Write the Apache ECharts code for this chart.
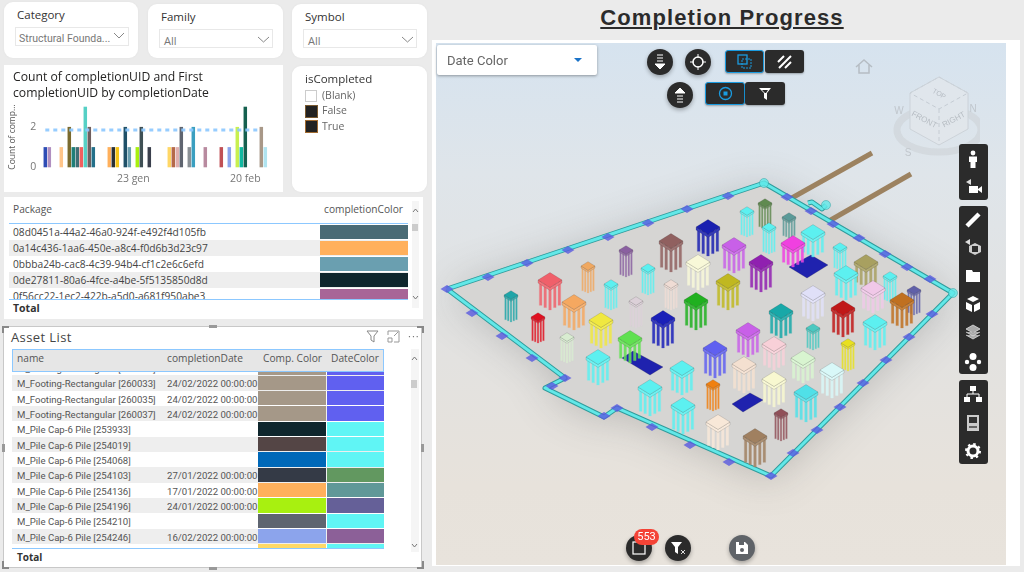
<!DOCTYPE html>
<html>
<head>
<meta charset="utf-8">
<title>Completion Progress</title>
<script src="https://cdn.jsdelivr.net/npm/echarts@6/dist/echarts.min.js"></script>
<style>
html, body { margin: 0; padding: 0; background: #ebebeb; }
#page { position: relative; width: 1024px; height: 572px; overflow: hidden; background: #ebebeb;
  font-family: "Open Sans", "Noto Sans", sans-serif; color: #333; filter: blur(0.35px); }
.abs { position: absolute; }
.panel { position: absolute; background: #fff; }
.round { border-radius: 9px; box-shadow: 0 0 3px rgba(0,0,0,.04); }
.txt { position: absolute; white-space: nowrap; line-height: 1; }
.drop { position: absolute; height: 19px; background: #fff; border: 1px solid #e8e8e8; box-sizing: border-box; }
.row { position: absolute; left: 0; right: 0; }
.dark { background: #2b2b2b; }
.btn { position: absolute; background: #2b2b2b; box-sizing: border-box; display: flex; align-items: center; justify-content: center; }
.circle { width: 26px; height: 26px; border-radius: 13px; box-shadow: 0 2px 4px rgba(0,0,0,.3); }
.rect { height: 23px; border-radius: 3px; box-shadow: 0 1px 2px rgba(0,0,0,.3); }
.on { border: 1px solid #1a9be0; }
.bar { position: absolute; left: 959px; width: 29px; background: #2b2b2b; border-radius: 3px; }
.ic { position: absolute; left: 964px; width: 18px; height: 18px; }
.cell { position: absolute; top: 0; bottom: 0; }
</style>
</head>
<body>
<div id="page">

  <!-- slicers -->
  <div class="panel round" style="left:4px;top:2px;width:134px;height:56px"></div>
  <div class="txt" style="left:17px;top:9px;font-size:11.5px">Category</div>
  <div class="drop" style="left:15px;top:27px;width:114px"></div>
  <div class="txt" style="left:19px;top:32px;font:10.5px Roboto,sans-serif;color:#777">Structural Founda...</div>
  <svg class="abs" style="left:113px;top:32px" width="12" height="8"><path d="M1 1 L6 6 L11 1" fill="none" stroke="#888"/></svg>

  <div class="panel round" style="left:148px;top:4px;width:135px;height:54px"></div>
  <div class="txt" style="left:161px;top:11px;font-size:11.5px">Family</div>
  <div class="drop" style="left:159px;top:29px;width:114px"></div>
  <div class="txt" style="left:164px;top:35px;font-size:11px;color:#777">All</div>
  <svg class="abs" style="left:257px;top:36px" width="13" height="8"><path d="M1 1 L6.5 6 L12 1" fill="none" stroke="#888"/></svg>

  <div class="panel round" style="left:292px;top:4px;width:135px;height:54px"></div>
  <div class="txt" style="left:305px;top:11px;font-size:11.5px">Symbol</div>
  <div class="drop" style="left:303px;top:29px;width:114px"></div>
  <div class="txt" style="left:308px;top:35px;font-size:11px;color:#777">All</div>
  <svg class="abs" style="left:401px;top:36px" width="13" height="8"><path d="M1 1 L6.5 6 L12 1" fill="none" stroke="#888"/></svg>

  <!-- bar chart -->
  <div class="panel" style="left:4px;top:65px;width:279px;height:127px"></div>
  <div id="barChart" class="abs" style="left:0;top:60px;width:290px;height:135px"></div>

  <!-- isCompleted -->
  <div class="panel round" style="left:292px;top:66px;width:135px;height:126px"></div>
  <div class="txt" style="left:305px;top:73px;font-size:11.5px">isCompleted</div>
  <div class="abs" style="left:305px;top:90px;width:10px;height:10px;border:1px solid #ccc"></div>
  <div class="txt" style="left:322px;top:90px;font-size:10.5px;color:#666">(Blank)</div>
  <div class="abs" style="left:305px;top:105px;width:11px;height:11px;background:#222;border:.5px solid #7a5a30"></div>
  <div class="txt" style="left:322px;top:105px;font-size:10.5px;color:#666">False</div>
  <div class="abs" style="left:305px;top:120px;width:11px;height:11px;background:#222;border:.5px solid #a06a30"></div>
  <div class="txt" style="left:322px;top:121px;font-size:10.5px;color:#666">True</div>

  <!-- package table -->
  <div class="panel" style="left:4px;top:197px;width:419px;height:122px"></div>
  <div class="txt" style="left:13px;top:204px;font-size:10.2px;color:#555">Package</div>
  <div class="txt" style="left:324px;top:204px;font-size:10.2px;color:#555">completionColor</div>
  <div id="packageRows" class="abs" style="left:9px;top:224px;width:399px;height:75px;overflow:hidden"></div>
  <div class="abs" style="left:9px;top:223px;width:399px;height:1px;background:#8cc8ff"></div>
  <div class="abs" style="left:9px;top:299px;width:399px;height:1px;background:#8cc8ff"></div>
  <div class="txt" style="left:13px;top:303px;font-size:10.5px;font-weight:700;color:#333">Total</div>
  <div class="abs" style="left:412px;top:201px;width:7px;height:107px;background:#f5f5f5"></div>
  <div class="abs" style="left:412px;top:224px;width:6px;height:7px;background:#ccc"></div>
  <svg class="abs" style="left:412px;top:208px" width="7" height="5"><path d="M1 4 L3.5 1 L6 4" fill="none" stroke="#777"/></svg>
  <svg class="abs" style="left:412px;top:295px" width="7" height="5"><path d="M1 1 L3.5 4 L6 1" fill="none" stroke="#777"/></svg>

  <!-- asset list -->
  <div class="panel" style="left:3px;top:326px;width:419px;height:242px;box-sizing:border-box;border:1px solid #c8c8c8"></div>
  <div class="txt" style="left:11px;top:331px;font-size:13px;letter-spacing:.4px;color:#444">Asset List</div>
  <svg class="abs" style="left:366px;top:330px" width="13" height="13"><path d="M1 1 H12 L8 6 V12 L5 10 V6 Z" fill="none" stroke="#888"/></svg>
  <svg class="abs" style="left:387px;top:330px" width="13" height="13"><path d="M1 5 V1 H12 V12 H7 M1 8 H5 V12 H1 Z M7 6 L11 2" fill="none" stroke="#999"/></svg>
  <div class="txt" style="left:408px;top:330px;font-size:11px;color:#777;letter-spacing:1px">···</div>
  <div id="assetRows" class="abs" style="left:12px;top:371px;width:372px;height:177px;overflow:hidden"></div>
  <div class="abs" style="left:12px;top:349px;width:372px;height:23px;box-sizing:border-box;background:#e6e6e6;border:1px solid #8cc8ff"></div>
  <div class="abs" style="left:12px;top:548px;width:372px;height:1px;background:#8cc8ff"></div>
  <div class="txt" style="left:17px;top:353px;font-size:10.2px;color:#555">name</div>
  <div class="txt" style="left:167px;top:353px;font-size:10.2px;color:#555">completionDate</div>
  <div class="txt" style="left:263px;top:353px;font-size:10.2px;color:#555">Comp. Color</div>
  <div class="txt" style="left:331px;top:353px;font-size:10.2px;color:#555">DateColor</div>
  <div class="txt" style="left:17px;top:552px;font-size:10px;font-weight:700;color:#333">Total</div>
  <div class="abs" style="left:411px;top:349px;width:8px;height:203px;background:#f5f5f5"></div>
  <div class="abs" style="left:411px;top:380px;width:6px;height:8px;background:#ccc"></div>
  <svg class="abs" style="left:411px;top:356px" width="7" height="5"><path d="M1 4 L3.5 1 L6 4" fill="none" stroke="#777"/></svg>
  <svg class="abs" style="left:411px;top:543px" width="7" height="5"><path d="M1 1 L3.5 4 L6 1" fill="none" stroke="#777"/></svg>
  <div class="abs" style="left:2px;top:326px;width:7px;height:2px;background:#888"></div>
  <div class="abs" style="left:2px;top:326px;width:2px;height:7px;background:#888"></div>
  <div class="abs" style="left:417px;top:326px;width:7px;height:2px;background:#888"></div>
  <div class="abs" style="left:422px;top:326px;width:2px;height:7px;background:#888"></div>
  <div class="abs" style="left:2px;top:567px;width:7px;height:2px;background:#888"></div>
  <div class="abs" style="left:2px;top:561px;width:2px;height:7px;background:#888"></div>
  <div class="abs" style="left:417px;top:567px;width:7px;height:2px;background:#888"></div>
  <div class="abs" style="left:422px;top:561px;width:2px;height:7px;background:#888"></div>
  <div class="abs" style="left:209px;top:325px;width:8px;height:3px;background:#999"></div>
  <div class="abs" style="left:209px;top:567px;width:8px;height:3px;background:#999"></div>
  <div class="abs" style="left:2px;top:444px;width:3px;height:8px;background:#999"></div>
  <div class="abs" style="left:421px;top:444px;width:3px;height:8px;background:#999"></div>

  <!-- right side -->
  <div class="txt" style="left:433px;width:578px;text-align:center;top:5px;font:bold 22px 'Liberation Sans',Arial,sans-serif;letter-spacing:1.1px;text-decoration:underline;color:#2b2b2b">Completion Progress</div>
  <div class="panel" style="left:432px;top:40px;width:588px;height:526px"></div>
  <div id="scene" class="abs" style="left:436px;top:43px;width:570px;height:522px;background:linear-gradient(180deg,#d6e3ef 0%,#dfe5ea 25%,#e2e2e1 55%,#e7e2db 85%,#e8e3dc 100%)"></div>

  <!-- view cube -->
  <svg class="abs" style="left:845px;top:50px;opacity:.7" width="135" height="110" viewBox="845 50 135 110">
    <ellipse cx="939" cy="130" rx="42" ry="22" fill="none" stroke="#c9ced2" stroke-width="7" opacity=".7"/>
    <path d="M939 77 L968 93 V129 L939 145 L910 129 V93 Z" fill="#e3e7ec"/>
    <path d="M939 77 L968 93 L939 109 L910 93 Z M939 109 V145" fill="none" stroke="#bcc2c8" stroke-dasharray="4 3"/>
    <path d="M939 77 L968 93 V129 L939 145 L910 129 V93 Z" fill="none" stroke="#c6cbd0"/>
    <text x="939" y="96" font-size="7" fill="#a8adb2" text-anchor="middle" transform="rotate(30 939 94)" font-family="Liberation Sans">TOP</text>
    <text x="924" y="122" font-size="8" fill="#a8adb2" text-anchor="middle" transform="rotate(28 924 120)" font-family="Liberation Sans">FRONT</text>
    <text x="954" y="122" font-size="8" fill="#a8adb2" text-anchor="middle" transform="rotate(-28 954 120)" font-family="Liberation Sans">RIGHT</text>
    <text x="899" y="114" font-size="10" fill="#b5babf" text-anchor="middle" font-family="Liberation Sans">W</text>
    <text x="973" y="112" font-size="10" fill="#b5babf" text-anchor="middle" font-family="Liberation Sans">N</text>
    <text x="908" y="156" font-size="10" fill="#b5babf" text-anchor="middle" font-family="Liberation Sans">S</text>
    <path d="M856 67 L864 60 L872 67 M859 65 V73 H869 V65" fill="none" stroke="#a8adb2" stroke-width="1.5"/>
  </svg>

  <!-- viewer dropdown -->
  <div class="abs" style="left:437px;top:45px;width:160px;height:30px;background:#fff;border-radius:2px;box-shadow:0 1px 3px rgba(0,0,0,.35)"></div>
  <div class="txt" style="left:447px;top:53px;font:13px Roboto,sans-serif;color:#666">Date Color</div>
  <svg class="abs" style="left:574px;top:58px" width="8" height="5"><path d="M0 0 H8 L4 4 Z" fill="#1a73c8"/></svg>

  <!-- viewer buttons -->
  <div class="btn circle" style="left:647px;top:49px"><svg width="12" height="16"><path d="M3 1H9M3 4H9M3 7H9M1 10H11L6 15Z" stroke="#fff" fill="#fff"/></svg></div>
  <div class="btn circle" style="left:685px;top:49px"><svg width="16" height="16"><circle cx="8" cy="8" r="5" fill="none" stroke="#fff" stroke-width="1.5"/><path d="M8 0V4M8 12V16M0 8H4M12 8H16" stroke="#fff"/></svg></div>
  <div class="btn rect on" style="left:725px;top:50px;width:39px"><svg width="15" height="15"><rect x="1" y="1" width="9" height="9" fill="none" stroke="#1a9be0" stroke-width="1.3"/><rect x="5" y="5" width="9" height="9" fill="none" stroke="#1a9be0" stroke-dasharray="2 1"/></svg></div>
  <div class="btn rect" style="left:765px;top:50px;width:39px"><svg width="15" height="14"><path d="M1 7L7 1M2 13L14 1M8 13L14 7" stroke="#fff" stroke-width="2"/></svg></div>
  <div class="btn circle" style="left:667px;top:82px"><svg width="12" height="16"><path d="M1 6H11L6 1ZM3 9H9M3 12H9M3 15H9" stroke="#fff" fill="#fff"/></svg></div>
  <div class="btn rect on" style="left:705px;top:82px;width:40px"><svg width="15" height="15"><circle cx="7.5" cy="7.5" r="6" fill="none" stroke="#1a9be0" stroke-width="1.3"/><rect x="5.5" y="5.5" width="4" height="4" fill="#1a9be0"/></svg></div>
  <div class="btn rect" style="left:745px;top:82px;width:40px"><svg width="14" height="14"><path d="M1 1H13L9 6V13L6 11V6ZM4 3H10L8 6H7Z" fill="#fff" fill-rule="evenodd"/></svg></div>

  <!-- toolbar -->
  <div class="bar" style="top:144px;height:56px"></div>
  <div class="bar" style="top:206px;height:168px"></div>
  <div class="bar" style="top:380px;height:84px"></div>
  <svg class="ic" style="top:150px"><circle cx="9" cy="3" r="2.4" fill="#fff"/><path d="M5 6.5H13V12H11.5V18H6.5V12H5Z" fill="#fff"/></svg>
  <svg class="ic" style="top:178px"><path d="M2 4L7 1V7Z" fill="#ddd"/><rect x="5" y="8" width="9" height="7" fill="#fff"/><path d="M14 11L18 8V15L14 12Z" fill="#fff"/></svg>
  <svg class="ic" style="top:211px"><path d="M3 15L15 3" stroke="#fff" stroke-width="4.5"/></svg>
  <svg class="ic" style="top:238px"><path d="M1 4L6 1V7Z" fill="#ddd"/><path d="M5 8L11 5L17 8V14L11 17L5 14Z" fill="#ccc"/><rect x="8" y="8" width="6" height="6" fill="#2b2b2b"/></svg>
  <svg class="ic" style="top:266px"><path d="M2 4H8L9 6H16V16H2Z" fill="#fff"/></svg>
  <svg class="ic" style="top:295px"><path d="M9 1L15 4L9 7L3 4ZM2 7L8 10V17L2 14ZM16 7L10 10V17L16 14Z" fill="#fff"/></svg>
  <svg class="ic" style="top:323px"><path d="M9 2L16 6L9 10L2 6ZM2 9L9 13L16 9M2 12L9 16L16 12" fill="#aaa" stroke="#ddd" stroke-width=".8"/></svg>
  <svg class="ic" style="top:353px"><circle cx="9" cy="3.5" r="3.5" fill="#fff"/><circle cx="9" cy="14.5" r="3.5" fill="#fff"/><circle cx="3" cy="9" r="2.2" fill="#fff"/><circle cx="15" cy="9" r="2.2" fill="#fff"/></svg>
  <svg class="ic" style="top:385px"><rect x="6" y="1" width="6" height="5" fill="#fff"/><path d="M9 6V9M3 12V9H15V12" fill="none" stroke="#fff"/><rect x="0" y="12" width="6" height="5" fill="#fff"/><rect x="12" y="12" width="6" height="5" fill="#fff"/></svg>
  <svg class="ic" style="top:414px"><rect x="3" y="1" width="12" height="16" fill="#ccc"/><rect x="5" y="3" width="8" height="6" fill="#333"/><rect x="5" y="12" width="8" height="2" fill="#666"/></svg>
  <svg class="ic" style="top:442px"><circle cx="9" cy="9" r="5" fill="none" stroke="#fff" stroke-width="3"/><circle cx="9" cy="9" r="7" fill="none" stroke="#fff" stroke-width="2" stroke-dasharray="2.5 3"/></svg>

  <!-- bottom buttons -->
  <div class="btn circle" style="left:626px;top:535px"><svg width="14" height="14"><rect x="1" y="1" width="12" height="12" fill="none" stroke="#fff" stroke-width="1.2"/></svg></div>
  <div class="abs" style="left:634px;top:529px;width:25px;height:16px;background:#f44336;border-radius:8px;color:#fff;font:11px/16px Roboto,sans-serif;text-align:center">553</div>
  <div class="btn circle" style="left:665px;top:535px"><svg width="16" height="14"><path d="M1 1H12L8 6V13L5 11V6Z" fill="#fff"/><path d="M11 9L15 13M15 9L11 13" stroke="#ddd"/></svg></div>
  <div class="btn circle" style="left:729px;top:535px;background:#5f6368"><svg width="14" height="14"><path d="M1 1H10L13 4V13H1Z" fill="#fff"/><rect x="4" y="1" width="5" height="3" fill="#5f6368"/><circle cx="7" cy="9" r="2" fill="#5f6368"/></svg></div>
</div>

<script>
// ---- bar chart data, one entry per day
var dayLabels = ['01 gen','02 gen','03 gen','04 gen','05 gen','06 gen','07 gen','08 gen','09 gen','10 gen','11 gen','12 gen','13 gen','14 gen',
  '15 gen','16 gen','17 gen','18 gen','19 gen','20 gen','21 gen','22 gen','23 gen','24 gen','25 gen','26 gen','27 gen','28 gen','29 gen','30 gen','31 gen',
  '01 feb','02 feb','03 feb','04 feb','05 feb','06 feb','07 feb','08 feb','09 feb','10 feb','11 feb','12 feb','13 feb','14 feb','15 feb','16 feb','17 feb',
  '18 feb','19 feb','20 feb','21 feb','22 feb','23 feb','24 feb','25 feb'];
var countValues = [1,1,null,null,1,null,2,1,1,1,3,2,1,null,null,null,1,1,1,null,2,1,null,1,2,null,1,null,null,null,null,
  1,1,1,2,null,1,2,null,null,1,null,null,null,1,null,1,null,2,1,3,null,null,null,2,1];
var dayColors = ['#2e4db5','#b08fc0',null,null,'#ffc58a',null,'#7a6a2e','#1f7f78','#3f6f75','#f0605f','#55d0c5','#6e5f5f','#23708a',null,
  null,null,'#ffb05c','#2a3035','#f5c518',null,'#1f5068','#6a9fb0',null,'#a8f010','#3f5055',null,'#3a3f4c',null,null,null,null,
  '#ffd766','#b5694a','#e0b0b0','#5f6570',null,'#8a9095','#3a9fc0',null,null,'#b88a9f',null,null,null,'#c05055',null,'#8ca4ec',null,
  '#c8f050','#10b8a0','#15604f',null,null,null,'#a89888','#b0e4f0'];
var firstUidLine = [['01 gen',1.85],['24 feb',1.85]];
var yTicksShown = ['0','2'];
var xTicksShown = ['23 gen','20 feb'];

// ---- tables
var packageIds = ['08d0451a-44a2-46a0-924f-e492f4d105fb','0a14c436-1aa6-450e-a8c4-f0d6b3d23c97','0bbba24b-cac8-4c39-94b4-cf1c2e6c6efd',
  '0de27811-80a6-4fce-a4be-5f5135850d8d','0f56cc22-1ec2-422b-a5d0-a681f950abe3'];
var packageColors = ['#4a6b75','#ffb05c','#6a9fb0','#0f262d','#a86597'];

var assetNames = ['M_Footing-Rectangular [260031]','M_Footing-Rectangular [260033]','M_Footing-Rectangular [260035]','M_Footing-Rectangular [260037]',
  'M_Pile Cap-6 Pile [253933]','M_Pile Cap-6 Pile [254019]','M_Pile Cap-6 Pile [254068]','M_Pile Cap-6 Pile [254103]','M_Pile Cap-6 Pile [254136]',
  'M_Pile Cap-6 Pile [254196]','M_Pile Cap-6 Pile [254210]','M_Pile Cap-6 Pile [254246]','M_Pile Cap-6 Pile [254291]'];
var assetDates = ['24/02/2022 00:00:00','24/02/2022 00:00:00','24/02/2022 00:00:00','24/02/2022 00:00:00','','','','27/01/2022 00:00:00',
  '17/01/2022 00:00:00','24/01/2022 00:00:00','','16/02/2022 00:00:00',''];
var assetCompColors = ['#a59888','#a59888','#a59888','#a59888','#0f262d','#544545','#0068b8','#343a46','#ffb05c','#a8f010','#5f6570','#8ca4ec','#ffd966'];
var assetDateColors = ['#6060f0','#6060f0','#6060f0','#6060f0','#60f5f5','#60f5f5','#60f5f5','#629860','#609898','#656098','#60f5f5','#8c6098','#60f5f5'];

// ---- site plan, in picture units: pile caps are [x, y, foot y, half width]
var pileCaps = [
  [511,295,322,7],[550,280,310,12],[538,317,343,7],[588,266,293,7],[574,302,330,12],[567,337,363,7],[601,320,348,12],
  [611,284,310,7],[626,250,277,7],[648,268,295,7],[671,241,272,12],[636,301,328,7],[671,284,310,7],[663,318,348,12],
  [696,300,330,12],[698,262,290,12],[708,227,256,12],[630,338,363,12],[598,357,385,12],[747,211,237,7],[765,203,229,7],
  [769,227,254,7],[789,217,238,7],[813,232,257,12],[793,243,267,12],[734,245,273,12],[761,262,292,12],[728,281,310,12],
  [840,247,270,7],[866,262,287,12],[846,273,300,12],[890,276,302,7],[873,288,313,12],[914,290,315,7],[902,300,328,12],
  [813,293,321,12],[843,308,337,12],[875,322,350,12],[781,311,338,12],[813,328,350,7],[748,330,357,12],[848,343,371,7],
  [715,348,378,12],[774,344,370,12],[803,358,383,12],[832,370,398,12],[744,364,393,12],[774,379,407,12],[806,392,422,12],
  [682,368,395,12],[650,387,416,12],[683,405,434,12],[713,384,411,7],[718,422,450,12],[755,436,467,12],[781,413,441,7]];
var pileColors = [
  '#1fa5a8','#f0606a','#e01020','#f0a860','#f5a860','#d8ecd0','#f0e840',
  '#5cf0f0','#8a60a0','#5cf0f0','#90605f','#dcd0d8','#efdcd4','#1a20b8',
  '#20b020','#f8f8d8','#1a20b0','#60e050','#5cf0f0','#5cf0f0','#608a50',
  '#5cf0f0','#5a9a98','#5cf0f0','#f040e0','#c860e8','#9020b0','#c0b820',
  '#5cf0f0','#a8a060','#5cf0f0','#5cf0f0','#f0c8e8','#6060a8','#c07020',
  '#e0e0f8','#c01818','#5cf0f0','#18a8a8','#4ac8c0','#c860e8','#e8e020',
  '#6060f0','#f8d0d8','#d8f4d0','#d8f8f8','#f4e0d0','#f8f8d0','#50e0e8',
  '#5cf0f0','#5cf0f0','#5cf0f0','#f08010','#f8e8d8','#a08060','#905058'];
var slabCorners = [
  [[633,351],[663,367],[650,375],[622,358]],
  [[811,255],[828,265],[807,278],[789,267]],
  [[750,393],[763,400],[743,412],[732,404]]];
var siteOutline = [[447,289],[764,183],[953,293],[771,476],[617,408],[604,417],[545,388],[565,378],[447,289]];
var notchStub = [[808,203],[812,202],[822,209],[826,205]];
var beamA = [[790,199],[872,153]];
var beamB = [[829,221],[911,174]];
var pegPoints = [[447,289],[488,277],[527,263],[568,250],[608,237],[648,223],[687,209],[728,196],[787,197],[811,211],[833,224],[859,238],
  [885,254],[907,267],[930,279],[932,314],[909,337],[886,360],[863,383],[840,407],[817,430],[793,453],[771,476],[729,462],[690,445],[652,427],
  [617,408],[604,416],[552,386],[565,378],[532,358],[502,336],[472,313]];
var cornerNodes = [[764,183],[953,293],[826,205]];

// ---- tables built from the lists above
function addRow(box, top, h, bg, html) {
  var d = document.createElement('div');
  d.className = 'row';
  d.style.top = top + 'px';
  d.style.height = h + 'px';
  d.style.background = bg;
  d.innerHTML = html;
  box.appendChild(d);
}
var pkgBox = document.getElementById('packageRows');
for (var i = 0; i < packageIds.length; i++) {
  var pkgTop = i * 16;
  addRow(pkgBox, pkgTop, 16, i % 2 ? '#eeeeee' : '#fff',
    '<div class="txt" style="left:4px;top:3px;font-size:10.2px;color:#444">' + packageIds[i] + '</div>' +
    '<div class="cell" style="left:311px;right:0;top:1px;bottom:1px;background:' + packageColors[i] + '"></div>');
}
var assetBox = document.getElementById('assetRows');
for (var j = 0; j < assetNames.length; j++) {
  var assetTop = -11 + j * 15.33;
  addRow(assetBox, assetTop, 15.33, j % 2 ? '#eeeeee' : '#fff',
    '<div class="txt" style="left:5px;top:3px;font:9.6px Roboto,sans-serif;color:#555">' + assetNames[j] + '</div>' +
    '<div class="txt" style="left:155px;top:3px;font:9.6px Roboto,sans-serif;color:#555">' + assetDates[j] + '</div>' +
    '<div class="cell" style="left:246px;width:68px;top:.5px;bottom:.5px;background:' + assetCompColors[j] + '"></div>' +
    '<div class="cell" style="left:315px;width:57px;top:.5px;bottom:.5px;background:' + assetDateColors[j] + '"></div>');
}

// ---- bar chart
var barData = [];
for (var k = 0; k < dayLabels.length; k++) {
  barData.push({ value: countValues[k], itemStyle: { color: dayColors[k] } });
}
var barChart = echarts.init(document.getElementById('barChart'), null, { renderer: 'canvas' });
barChart.setOption({
  animation: false,
  title: {
    text: 'Count of completionUID and First\ncompletionUID by completionDate',
    left: 8, top: 5,
    textStyle: { fontFamily: 'Open Sans', fontSize: 12.2, fontWeight: 500, color: '#252423', lineHeight: 15.5 }
  },
  grid: { left: 43.3, width: 224, top: 46.7, height: 60.6 },
  xAxis: {
    type: 'category',
    data: dayLabels,
    axisLine: { show: false },
    axisTick: { show: false },
    axisLabel: {
      interval: function (index, value) { return xTicksShown.indexOf(value) >= 0; },
      color: '#777', fontSize: 10.5, fontFamily: 'Open Sans', margin: 6
    }
  },
  yAxis: {
    type: 'value',
    min: 0, max: 3, interval: 1,
    name: 'Count of comp...',
    nameLocation: 'middle',
    nameGap: 26,
    nameTextStyle: { color: '#555', fontSize: 8.5, fontFamily: 'Open Sans' },
    axisLabel: {
      color: '#777', fontSize: 10.5, fontFamily: 'Open Sans', margin: 7,
      formatter: function (v) { return yTicksShown.indexOf(String(v)) >= 0 ? String(v) : ''; }
    },
    splitLine: { show: false }
  },
  series: [
    { name: 'Count of completionUID', type: 'bar', data: barData, barWidth: 3.5, z: 2 },
    {
      name: 'First completionUID', type: 'line', data: firstUidLine, symbol: 'none', z: 3,
      lineStyle: { color: '#8cc8ff', width: 3, type: [4, 4], opacity: .9 }
    }
  ]
});

// ---- site view
var order = pileCaps.map(function (p, n) { return n; }).sort(function (a, b) { return pileCaps[a][1] - pileCaps[b][1]; });
var sortedCaps = order.map(function (n) { return pileCaps[n].concat([pileColors[n]]); });

function renderPile(params, api) {
  var c = api.coord([api.value(0), api.value(1)]);
  var foot = api.coord([api.value(0), api.value(2)])[1];
  var hw = api.value(3);
  var col = sortedCaps[params.dataIndex][4];
  var hh = hw * 0.62;
  var th = hw > 8 ? 3 : 2;
  var kids = [];
  var steps = [-0.78, -0.4, 0, 0.4, 0.78];
  var legW = hw > 8 ? 2.6 : 1.5;
  for (var s = 0; s < steps.length; s++) {
    var dx = steps[s] * hw;
    var bottom = foot - Math.abs(steps[s]) * (hw > 8 ? 6 : 3);
    kids.push({
      type: 'rect',
      shape: { x: c[0] + dx - legW / 2, y: c[1], width: legW, height: bottom - c[1] },
      style: { fill: col, stroke: echarts.color.lift(col, 0.2), lineWidth: .3, opacity: .85 }
    });
  }
  kids.push({
    type: 'polygon',
    shape: { points: [[c[0] - hw, c[1]], [c[0], c[1] + hh], [c[0] + hw, c[1]], [c[0] + hw, c[1] + th], [c[0], c[1] + hh + th], [c[0] - hw, c[1] + th]] },
    style: { fill: echarts.color.lift(col, 0.12), stroke: 'rgba(40,40,40,.3)', lineWidth: .5 }
  });
  kids.push({
    type: 'polygon',
    shape: { points: [[c[0] - hw, c[1]], [c[0], c[1] - hh], [c[0] + hw, c[1]], [c[0], c[1] + hh]] },
    style: { fill: col, stroke: 'rgba(40,40,40,.3)', lineWidth: .5 }
  });
  return { type: 'group', children: kids };
}

function renderPolygon(params, api) {
  var ring = api.value(0) === 0 ? siteOutline : slabCorners[api.value(0) - 1];
  return {
    type: 'polygon',
    shape: { points: ring.map(function (p) { return api.coord(p); }) },
    style: api.value(0) === 0
      ? { fill: '#d6d5d3', shadowBlur: 40, shadowColor: 'rgba(90,90,90,.3)', shadowOffsetY: 4 }
      : { fill: '#1f22ae', stroke: 'rgba(30,30,80,.5)', lineWidth: .5 }
  };
}

var scene = echarts.init(document.getElementById('scene'), null, { renderer: 'canvas' });
var edgeLine = function (points, color, width, z) {
  return { type: 'line', data: points, symbol: 'none', z: z, lineStyle: { color: color, width: width, join: 'round' } };
};
scene.setOption({
  animation: false,
  backgroundColor: 'transparent',
  grid: { left: 0, right: 0, top: 0, bottom: 0 },
  xAxis: { type: 'value', min: 436, max: 1006, show: false },
  yAxis: { type: 'value', min: 43, max: 565, inverse: true, show: false },
  series: [
    { type: 'custom', renderItem: renderPolygon, data: [[0]], z: 1, silent: true, encode: { x: 0, y: 0 }, clip: false },
    edgeLine(beamA, '#9c8260', 5, 2),
    edgeLine(beamB, '#9c8260', 5, 2),
    edgeLine(siteOutline, '#2f9c9c', 5, 3),
    edgeLine(notchStub, '#2f9c9c', 5, 3),
    edgeLine(siteOutline, '#62e8e8', 3, 4),
    edgeLine(notchStub, '#62e8e8', 3, 4),
    { type: 'scatter', data: cornerNodes, symbol: 'circle', symbolSize: 9, z: 5, itemStyle: { color: '#62e8e8', borderColor: '#2f9c9c', borderWidth: .6 } },
    { type: 'scatter', data: pegPoints, symbol: 'diamond', symbolSize: [13, 8], z: 5, itemStyle: { color: '#5a5ae0' } },
    { type: 'custom', renderItem: renderPolygon, data: [[1], [2], [3]], z: 6, encode: { x: 0, y: 0 }, clip: false },
    { type: 'custom', renderItem: renderPile, data: sortedCaps.map(function (p) { return p.slice(0, 4); }), z: 7, encode: { x: 0, y: 1 }, clip: false }
  ]
});
</script>
</body>
</html>
